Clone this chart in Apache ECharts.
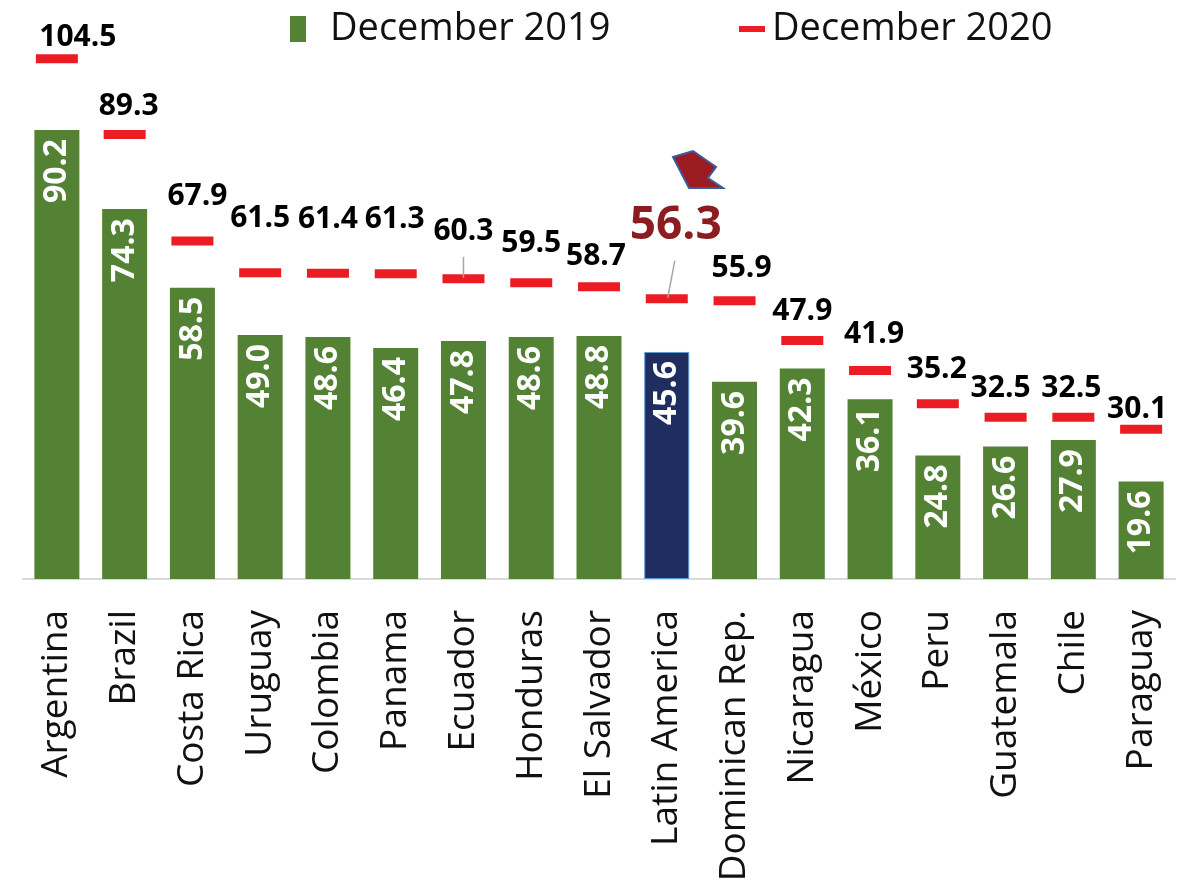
<!DOCTYPE html>
<html>
<head>
<meta charset="utf-8">
<script src="https://cdn.jsdelivr.net/npm/echarts@6/dist/echarts.min.js"></script>
<style>
  html, body { margin: 0; padding: 0; background: #ffffff; }
  #chart { width: 1179px; height: 886px; }
</style>
</head>
<body>
<div id="chart"></div>
<script>
// ---- Data ----
const categories = ['Argentina', 'Brazil', 'Costa Rica', 'Uruguay', 'Colombia', 'Panama', 'Ecuador',
  'Honduras', 'El Salvador', 'Latin America', 'Dominican Rep.', 'Nicaragua', 'México', 'Peru',
  'Guatemala', 'Chile', 'Paraguay'];
const dec2019 = [90.2, 74.3, 58.5, 49.0, 48.6, 46.4, 47.8, 48.6, 48.8, 45.6, 39.6, 42.3, 36.1, 24.8, 26.6, 27.9, 19.6];
const dec2020 = [104.5, 89.3, 67.9, 61.5, 61.4, 61.3, 60.3, 59.5, 58.7, 56.3, 55.9, 47.9, 41.9, 35.2, 32.5, 32.5, 30.1];
const seriesNames = ['December 2019', 'December 2020'];
const highlightCategory = 'Latin America';

// ---- Layout tweaks for the December 2020 value labels (pixel nudges relative to the dash) ----
const labelNudge = {
  'Argentina': [21, -21], 'Brazil': [4, -28], 'Costa Rica': [5, -45], 'Uruguay': [0, -54],
  'Colombia': [0, -54], 'Panama': [-1, -54], 'Ecuador': [0, -47], 'Honduras': [0, -39],
  'El Salvador': [-3, -30], 'Latin America': [9, -73], 'Dominican Rep.': [7, -32],
  'Nicaragua': [0, -29], 'México': [4, -36], 'Peru': [-1, -34], 'Guatemala': [-5, -29],
  'Chile': [-2, -29], 'Paraguay': [-4, -20]
};
const leaderLines = {
  'Ecuador': [[0, -22], [0, -1]],
  'Latin America': [[8, -38], [1, -1]]
};

const GREEN = '#548235';
const NAVY = '#1f2d5f';
const RED = '#ec1c24';
const FONT = 'Open Sans';

const chart = echarts.init(document.getElementById('chart'), null, { renderer: 'canvas' });

const barData = dec2019.map((v, i) => {
  if (categories[i] === highlightCategory) {
    return { value: v, itemStyle: { color: NAVY, borderColor: '#5b9bd5', borderWidth: 1 } };
  }
  return v;
});

const option = {
  backgroundColor: '#ffffff',
  animation: false,
  legend: [
    {
      data: [{ name: seriesNames[0], icon: 'rect' }],
      left: 285, top: 5,
      itemWidth: 16, itemHeight: 26,
      textStyle: { fontFamily: FONT, fontSize: 38, color: '#111', padding: [0, 0, 0, 19] },
      selectedMode: false
    },
    {
      data: [{ name: seriesNames[1], icon: 'rect' }],
      left: 734, top: 5,
      itemWidth: 26, itemHeight: 6,
      textStyle: { fontFamily: FONT, fontSize: 38, color: '#111', padding: [0, 0, 0, 2] },
      selectedMode: false
    }
  ],
  grid: { left: 23, right: 4, top: 31.4, bottom: 307, containLabel: false },
  xAxis: {
    type: 'category',
    data: categories,
    boundaryGap: true,
    axisLine: { show: true, lineStyle: { color: '#d9d9d9', width: 2 } },
    axisTick: { show: false },
    axisLabel: {
      rotate: 90, interval: 0, margin: 31,
      fontFamily: FONT, fontSize: 37, color: '#111'
    }
  },
  yAxis: {
    type: 'value', min: 0, max: 110, interval: 10,
    show: false,
    splitLine: { show: false }
  },
  series: [
    {
      name: seriesNames[0],
      type: 'bar',
      data: barData,
      barWidth: 45,
      itemStyle: { color: GREEN },
      label: {
        show: true,
        position: 'insideTop',
        rotate: 90,
        align: 'right',
        verticalAlign: 'middle',
        distance: 9,
        fontFamily: FONT,
        fontWeight: 'bold',
        fontSize: 32,
        color: '#ffffff',
        formatter: p => Number(p.value).toFixed(1)
      },
      z: 2
    },
    {
      name: seriesNames[1],
      type: 'custom',
      data: dec2020.map((v, i) => [i, v]),
      encode: { x: 0, y: 1 },
      itemStyle: { color: RED },
      clip: false,
      z: 3,
      renderItem: function (params, api) {
        const i = params.dataIndex;
        const v = api.value(1);
        const p = api.coord([api.value(0), v]);
        const name = categories[i];
        const hl = name === highlightCategory;
        const nudge = labelNudge[name] || [0, -30];
        const children = [
          {
            type: 'rect',
            shape: { x: p[0] - 21, y: p[1] - 4.5, width: 42, height: 9 },
            style: { fill: RED }
          },
          {
            type: 'text',
            style: {
              text: v.toFixed(1),
              x: p[0] + nudge[0],
              y: p[1] + nudge[1],
              align: 'center',
              verticalAlign: 'middle',
              fontFamily: FONT,
              fontWeight: 'bold',
              fontSize: hl ? 46 : 30,
              fill: hl ? '#8b1c1f' : '#000000'
            }
          }
        ];
        const ll = leaderLines[name];
        if (ll) {
          children.push({
            type: 'line',
            shape: { x1: p[0] + ll[0][0], y1: p[1] + ll[0][1], x2: p[0] + ll[1][0], y2: p[1] + ll[1][1] },
            style: { stroke: '#a6a6a6', lineWidth: 1.5 }
          });
        }
        return { type: 'group', children: children };
      }
    }
  ],
  graphic: [
    {
      type: 'polygon',
      shape: { points: [[673, 157], [693, 151], [716, 167], [708, 178], [723, 188], [689, 188]] },
      style: { fill: '#9b1b20', stroke: '#3b5ba0', lineWidth: 2 },
      z: 10
    }
  ]
};

chart.setOption(option);
</script>
</body>
</html>
